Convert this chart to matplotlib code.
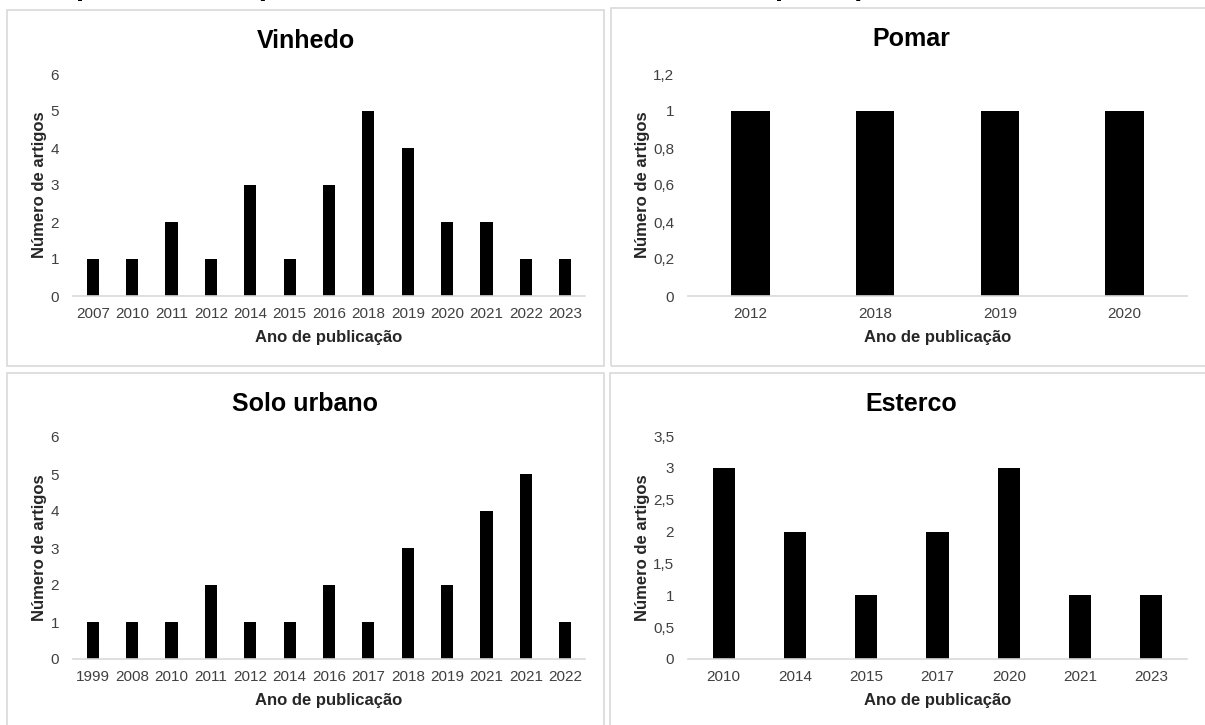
import matplotlib.pyplot as plt
from matplotlib.patches import Rectangle
from matplotlib.ticker import FuncFormatter

plt.rcParams['font.family'] = ['Liberation Sans', 'DejaVu Sans']

# Artigos por ano de publicação
vinhedo_anos = ['2007', '2010', '2011', '2012', '2014', '2015', '2016',
                '2018', '2019', '2020', '2021', '2022', '2023']
vinhedo_n = [1, 1, 2, 1, 3, 1, 3, 5, 4, 2, 2, 1, 1]

pomar_anos = ['2012', '2018', '2019', '2020']
pomar_n = [1, 1, 1, 1]

solo_anos = ['1999', '2008', '2010', '2011', '2012', '2014', '2016',
             '2017', '2018', '2019', '2021', '2021', '2022']
solo_n = [1, 1, 1, 2, 1, 1, 2, 1, 3, 2, 4, 5, 1]

esterco_anos = ['2010', '2014', '2015', '2017', '2020', '2021', '2023']
esterco_n = [3, 2, 1, 2, 3, 1, 1]

W, H = 1205, 725
fig = plt.figure(figsize=(W / 100, H / 100), dpi=100)
fig.patch.set_facecolor('white')


def fx(x):
    return x / W


def fy(y):
    return 1 - y / H


# legenda cortada no topo da página (só as hastes aparecem)
fig.text(fx(76), 1 + 5 / H, 'por vinhedo, pomar, solo urbano e esterco, com o principal',
         fontsize=21, fontweight='bold', color='black', va='baseline', ha='left')


def virgula(v, pos):
    s = ('%.1f' % v).rstrip('0').rstrip('.')
    return s.replace('.', ',')


def painel(box, area, ylab_x, titulo, anos, valores, ymax, ystep):
    bx0, by0, bx1, by1 = box
    fig.add_artist(Rectangle((fx(bx0), fy(by1)), fx(bx1 - bx0), (by1 - by0) / H,
                             transform=fig.transFigure, fill=False,
                             edgecolor='#d9d9d9', linewidth=1.2))
    ax0, ay_top, ax1, ay0 = area
    ax = fig.add_axes([fx(ax0), fy(ay0), fx(ax1 - ax0), (ay0 - ay_top) / H])
    pos = list(range(len(anos)))
    ax.bar(pos, valores, width=0.31, color='black')
    ax.set_xlim(-0.5, len(anos) - 0.5)
    ax.set_ylim(0, ymax)
    n = int(round(ymax / ystep))
    ax.set_yticks([i * ystep for i in range(n + 1)])
    ax.yaxis.set_major_formatter(FuncFormatter(virgula))
    ax.set_xticks(pos)
    ax.set_xticklabels(anos)
    ax.tick_params(length=0, labelsize=11, colors='#404040', pad=8)
    ax.tick_params(axis='y', pad=10)
    for s in ['top', 'right', 'left']:
        ax.spines[s].set_visible(False)
    ax.spines['bottom'].set_color('#d9d9d9')
    ax.spines['bottom'].set_linewidth(1.2)
    ax.patch.set_alpha(0)

    cx = (bx0 + bx1) / 2
    fig.text(fx(cx), fy(by0 + 31), titulo, fontsize=18, fontweight='bold',
             ha='center', va='center', color='black')
    fig.text(fx((ax0 + ax1) / 2), fy(ay0 + 42), 'Ano de publicação', fontsize=12,
             fontweight='bold', ha='center', va='center', color='#262626')
    fig.text(fx(ylab_x), fy((ay0 + ay_top) / 2), 'Número de artigos', fontsize=12,
             fontweight='bold', ha='center', va='center', rotation=90, color='#262626')
    return ax


painel((7, 10, 604, 366), (73, 74, 585, 296), 40, 'Vinhedo', vinhedo_anos, vinhedo_n, 6, 1)
painel((611, 8, 1212, 366), (688, 74, 1187, 296), 642, 'Pomar', pomar_anos, pomar_n, 1.2, 0.2)
painel((7, 373, 604, 732), (73, 437, 585, 659), 40, 'Solo urbano', solo_anos, solo_n, 6, 1)
painel((610, 373, 1212, 732), (688, 436, 1187, 659), 642, 'Esterco', esterco_anos, esterco_n, 3.5, 0.5)

fig.savefig('out.png', dpi=100)
